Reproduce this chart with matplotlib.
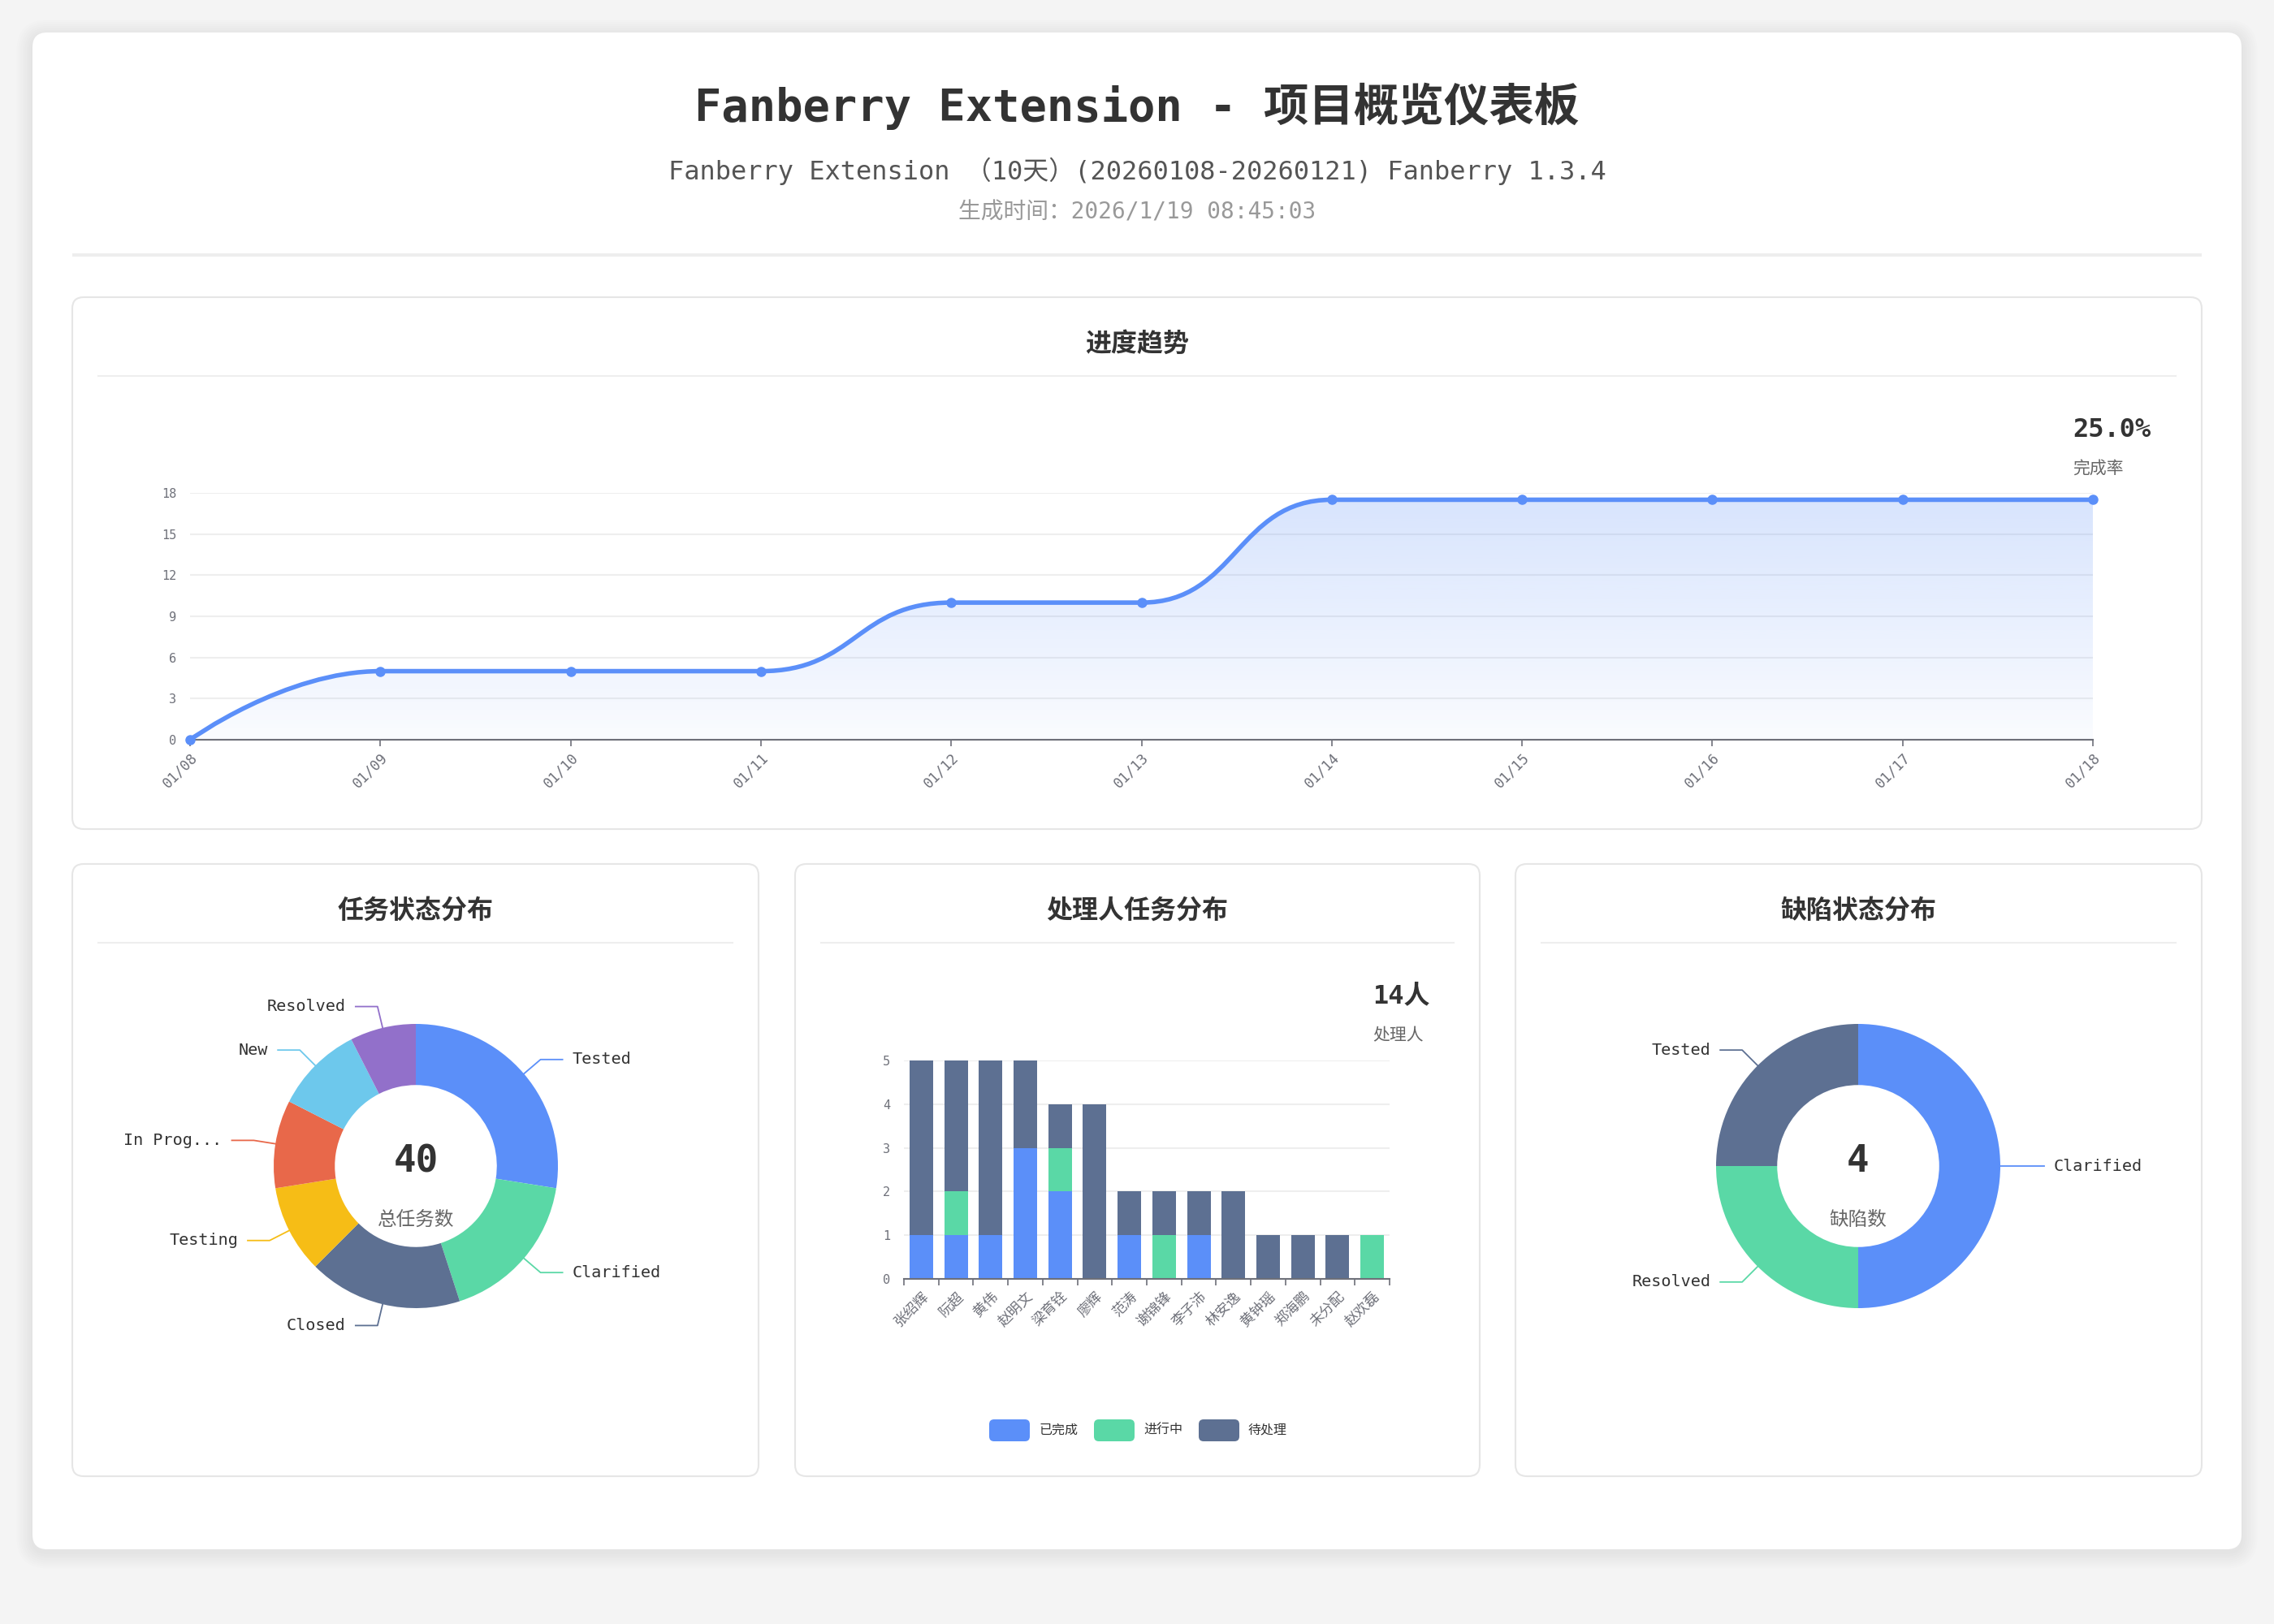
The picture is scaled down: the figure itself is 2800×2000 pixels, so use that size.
import matplotlib

matplotlib.use("Agg")
import matplotlib.pyplot as plt
import numpy as np
from matplotlib.patches import FancyBboxPatch, PathPatch
from matplotlib.path import Path
from matplotlib.colors import to_rgb

W, H = 2800, 2000
plt.rcParams["font.family"] = ["DejaVu Sans Mono", "Noto Sans CJK SC"]

BLUE = "#5B8FF9"
GREEN = "#5AD8A6"
SLATE = "#5D7092"
YELLOW = "#F6BD16"
RED = "#E8684A"
CYAN = "#6DC8EC"
PURPLE = "#9270CA"
AXIS = "#6E7079"

# ---- data ----
dates = ["01/08", "01/09", "01/10", "01/11", "01/12", "01/13",
         "01/14", "01/15", "01/16", "01/17", "01/18"]
progress = [0, 5, 5, 5, 10, 10, 17.5, 17.5, 17.5, 17.5, 17.5]
completion_rate = "25.0%"

task_status = ["Tested", "Clarified", "Closed", "Testing", "In Prog...", "New", "Resolved"]
task_counts = [11, 7, 7, 4, 4, 4, 3]
task_colors = [BLUE, GREEN, SLATE, YELLOW, RED, CYAN, PURPLE]

assignees = ["张绍辉", "阮超", "黄伟", "赵明文", "梁育铨", "廖辉", "范涛",
             "谢锦锋", "李子沛", "林安逸", "黄钟瑶", "郑海鹏", "未分配", "赵欢磊"]
done = [1, 1, 1, 3, 2, 0, 1, 0, 1, 0, 0, 0, 0, 0]
doing = [0, 1, 0, 0, 1, 0, 0, 1, 0, 0, 0, 0, 0, 1]
todo = [4, 3, 4, 2, 1, 4, 1, 1, 1, 2, 1, 1, 1, 0]
bar_series = ["已完成", "进行中", "待处理"]

defect_status = ["Clarified", "Resolved", "Tested"]
defect_counts = [2, 1, 1]
defect_colors = [BLUE, GREEN, SLATE]

fig = plt.figure(figsize=(28, 20), dpi=100)
fig.patch.set_facecolor("#f4f4f4")

bg = fig.add_axes([0, 0, 1, 1])
bg.set_xlim(0, W)
bg.set_ylim(H, 0)
bg.axis("off")


def px_axes(x0, y0, x1, y1):
    ax = fig.add_axes([x0 / W, 1 - y1 / H, (x1 - x0) / W, (y1 - y0) / H])
    ax.set_facecolor("none")
    return ax


def rbox(x0, y0, x1, y1, r, **kw):
    p = FancyBboxPatch((x0, y0), x1 - x0, y1 - y0,
                       boxstyle=f"round,pad=0,rounding_size={r}", **kw)
    bg.add_patch(p)
    return p


# main card with soft shadow
for i in range(8):
    s = 2 + i * 2.5
    rbox(40 - s, 44 - s, 2760 + s, 1908 + s + 4, 18 + s,
         facecolor="black", edgecolor="none", alpha=0.006)
rbox(40, 40, 2760, 1908, 18, facecolor="white", edgecolor="none")

# header
bg.text(1400, 131, "Fanberry Extension - 项目概览仪表板", ha="center", va="center",
        fontsize=40, fontweight="bold", color="#333333")
bg.text(1400, 211, "Fanberry Extension （10天）(20260108-20260121) Fanberry 1.3.4",
        ha="center", va="center", fontsize=23, color="#555555")
bg.text(1400, 262, "生成时间：2026/1/19 08:45:03", ha="center", va="center",
        fontsize=20, color="#999999")
bg.plot([89, 2711], [314, 314], color="#eeeeee", lw=3, solid_capstyle="butt")

# panels
panels = [
    (89, 366, 2711, 1021, "进度趋势", 424, 463),
    (89, 1064, 934, 1818, "任务状态分布", 1122, 1161),
    (979, 1064, 1822, 1818, "处理人任务分布", 1122, 1161),
    (1866, 1064, 2711, 1818, "缺陷状态分布", 1122, 1161),
]
for x0, y0, x1, y1, title, ty, ly in panels:
    rbox(x0, y0, x1, y1, 14, facecolor="white", edgecolor="#e6e6e6", lw=1.5)
    bg.text((x0 + x1) / 2, ty, title, ha="center", va="center",
            fontsize=23, fontweight="bold", color="#333333")
    bg.plot([x0 + 32, x1 - 32], [ly, ly], color="#eeeeee", lw=1.5)

# ---- progress line chart ----
ax = px_axes(234, 607, 2577, 911)
xs = np.arange(len(dates))


def smooth_path(xv, yv, k=0.5):
    verts = [(xv[0], yv[0])]
    codes = [Path.MOVETO]
    n = len(xv)
    for i in range(n - 1):
        dx = xv[i + 1] - xv[i]
        c1 = (xv[i], yv[i]) if i == 0 else (xv[i] + k * dx, yv[i])
        c2 = (xv[i + 1], yv[i + 1]) if i + 1 == n - 1 else (xv[i + 1] - k * dx, yv[i + 1])
        verts += [c1, c2, (xv[i + 1], yv[i + 1])]
        codes += [Path.CURVE4] * 3
    return verts, codes


verts, codes = smooth_path(xs, progress)
line_path = Path(verts, codes)
fill_path = Path(verts + [(xs[-1], 0), (xs[0], 0), (xs[0], 0)],
                 codes + [Path.LINETO, Path.LINETO, Path.CLOSEPOLY])
fill_patch = PathPatch(fill_path, facecolor="none", edgecolor="none")
ax.add_patch(fill_patch)
grad = np.zeros((256, 1, 4))
grad[..., :3] = to_rgb(BLUE)
grad[..., 3] = np.linspace(0.24, 0.03, 256)[:, None]
im = ax.imshow(grad, extent=[xs[0], xs[-1], 0, max(progress)], aspect="auto",
               origin="upper", zorder=1)
im.set_clip_path(fill_patch)
ax.add_patch(PathPatch(line_path, facecolor="none", edgecolor=BLUE, lw=4, zorder=3,
                       capstyle="round"))
ax.plot(xs, progress, "o", color=BLUE, ms=8, zorder=4, clip_on=False)

ax.set_xlim(0, len(dates) - 1)
ax.set_ylim(0, 18)
ax.set_yticks(range(0, 19, 3))
ax.grid(axis="y", color="#eeeeee", lw=1.5)
ax.set_axisbelow(True)
for s in ("left", "right", "top"):
    ax.spines[s].set_visible(False)
ax.spines["bottom"].set_color(AXIS)
ax.spines["bottom"].set_linewidth(1.5)
ax.set_xticks(xs)
ax.set_xticklabels(dates, rotation=45, ha="right", rotation_mode="anchor")
ax.tick_params(axis="x", length=6, width=1.2, color=AXIS, labelsize=12.5,
               labelcolor=AXIS, pad=3)
ax.tick_params(axis="y", length=0, labelsize=11, labelcolor=AXIS, pad=12)

bg.text(2552, 530, completion_rate, ha="left", va="center", fontsize=23,
        fontweight="bold", color="#333333")
bg.text(2552, 577, "完成率", ha="left", va="center", fontsize=15, color="#666666")


# ---- donuts ----
def donut(cx, cy, counts, labels, colors, center_num, center_txt):
    R = 175.0
    half = 320
    pax = px_axes(cx - half, cy - half, cx + half, cy + half)
    lim = half / R
    pax.pie(counts, colors=colors, startangle=90, counterclock=False, radius=1,
            wedgeprops=dict(width=0.43, edgecolor="none"))
    pax.set_xlim(-lim, lim)
    pax.set_ylim(-lim, lim)
    pax.set_aspect("equal")
    pax.axis("off")
    total = sum(counts)
    start = 0.0
    l1, l2, gap = 27 / R, 27 / R, 12 / R
    for c, lab, col in zip(counts, labels, colors):
        mid = np.deg2rad((start + c / 2) / total * 360)
        start += c
        ux, uy = np.sin(mid), np.cos(mid)
        side = 1 if ux >= -1e-9 else -1
        p1 = (ux, uy)
        p2 = (ux * (1 + l1), uy * (1 + l1))
        p3 = (p2[0] + side * l2, p2[1])
        pax.plot([p1[0], p2[0], p3[0]], [p1[1], p2[1], p3[1]], color=col, lw=1.3,
                 clip_on=False)
        pax.text(p3[0] + side * gap, p3[1], lab, ha="left" if side > 0 else "right",
                 va="center", fontsize=14.5, color="#333333", clip_on=False)
    pax.text(0, 0.03, center_num, ha="center", va="center", fontsize=33,
             fontweight="bold", color="#333333")
    pax.text(0, -0.377, center_txt, ha="center", va="center", fontsize=17,
             color="#666666")


donut(512, 1436, task_counts, task_status, task_colors, str(sum(task_counts)), "总任务数")
donut(2288, 1436, defect_counts, defect_status, defect_colors,
      str(sum(defect_counts)), "缺陷数")

# ---- assignee stacked bars ----
bx = px_axes(1113, 1306, 1711, 1575)
pos = np.arange(len(assignees))
bw = 0.68
bx.bar(pos, done, bw, color=BLUE, zorder=2)
bx.bar(pos, doing, bw, bottom=done, color=GREEN, zorder=2)
bottom2 = [a + b for a, b in zip(done, doing)]
bx.bar(pos, todo, bw, bottom=bottom2, color=SLATE, zorder=2)
bx.set_xlim(-0.5, len(assignees) - 0.5)
bx.set_ylim(0, 5)
bx.set_yticks(range(0, 6))
bx.grid(axis="y", color="#eeeeee", lw=1.5)
bx.set_axisbelow(True)
for s in ("left", "right", "top"):
    bx.spines[s].set_visible(False)
bx.spines["bottom"].set_color(AXIS)
bx.spines["bottom"].set_linewidth(1.5)
bx.set_xticks(pos)
bx.set_xticklabels(assignees, rotation=45, ha="right", rotation_mode="anchor",
                   family=["Noto Sans CJK SC", "DejaVu Sans"])
bx.set_xticks(np.arange(-0.5, len(assignees)), minor=True)
bx.tick_params(axis="x", which="major", length=0, labelsize=12.5, labelcolor=AXIS, pad=9)
bx.tick_params(axis="x", which="minor", length=6, width=1.2, color=AXIS)
bx.tick_params(axis="y", length=0, labelsize=11, labelcolor=AXIS, pad=12)

people = sum(1 for d, g, t in zip(done, doing, todo) if d + g + t > 0)
bg.text(1690, 1227, f"{people}人", ha="left", va="center", fontsize=23,
        fontweight="bold", color="#333333")
bg.text(1690, 1275, "处理人", ha="left", va="center", fontsize=15, color="#666666")

# legend
lx = 1218
for name, col in zip(bar_series, [BLUE, GREEN, SLATE]):
    rbox(lx, 1748, lx + 50, 1775, 6, facecolor=col, edgecolor="none")
    bg.text(lx + 61, 1761, name, ha="left", va="center", fontsize=11.5, color="#333333",
            family=["Noto Sans CJK SC", "DejaVu Sans"])
    lx += 129

fig.savefig("out.png", dpi=100, facecolor=fig.get_facecolor())
